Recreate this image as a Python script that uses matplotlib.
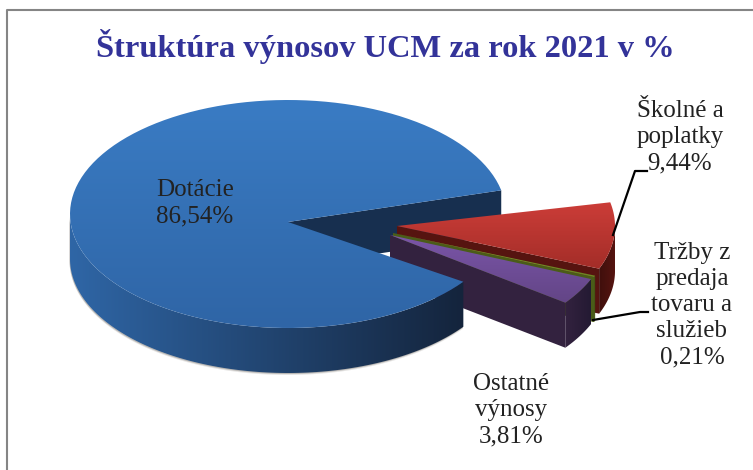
import numpy as np
import matplotlib
matplotlib.use("Agg")
import matplotlib.pyplot as plt
from matplotlib.colors import LinearSegmentedColormap
from matplotlib.patches import Polygon

# Values, in percent, going counterclockwise from the Dotacie slice
categories = ["Dotácie", "Ostatné výnosy", "Tržby z predaja tovaru a služieb", "Školné a poplatky"]
values = [86.54, 3.81, 0.21, 9.44]
value_labels = ["86,54%", "3,81%", "0,21%", "9,44%"]
title = "Štruktúra výnosov UCM za rok 2021 v %"

# Pie geometry in pixels
CX, CY = 288, 214
RX, RY = 218, 114
DEPTH = 45
START = 12.0
APEX_DROP = 8
OFFSETS = [(0, 0), (102, 21), (105, 19), (109, 12)]

# top start, top end, side light, side dark
COLORS = [
    ("#3a7cc4", "#2f65a6", "#2f66a6", "#14243c"),
    ("#7a55a8", "#634586", "#33223f", "#241a33"),
    ("#7f9a2c", "#6b8424", "#4a5c18", "#3c4c12"),
    ("#cc3d38", "#a32d28", "#561410", "#3f0f0c"),
]

FONT = ["Liberation Serif", "DejaVu Serif"]
TEXT = "#222222"


def rim(t1, t2, ox=0, oy=0, n=120):
    t = np.radians(np.linspace(t1, t2, n))
    return np.column_stack([CX + ox + RX * np.cos(t), CY + oy - RY * np.sin(t)])


def grad_fill(ax, pts, c1, c2, vertical=True, zorder=2):
    """Fill a polygon with a linear gradient, clipped through an image."""
    cmap = LinearSegmentedColormap.from_list("g", [c1, c2])
    g = np.linspace(0, 1, 256)
    g = g.reshape(-1, 1) if vertical else g.reshape(1, -1)
    x0, y0 = pts.min(axis=0)
    x1, y1 = pts.max(axis=0)
    im = ax.imshow(g, cmap=cmap, extent=(x0, x1, y1, y0), aspect="auto", zorder=zorder,
                   interpolation="bilinear")
    poly = Polygon(pts, closed=True, facecolor="none", edgecolor="none", transform=ax.transData)
    ax.add_patch(poly)
    im.set_clip_path(poly)


def draw_side(ax, t1, t2, ox, oy, c1, c2, zorder):
    # only the part of the rim facing the viewer
    lo, hi = max(t1, -180), min(t2, 0)
    if lo < hi:
        top = rim(lo, hi, ox, oy)
        grad_fill(ax, np.vstack([top, (top + [0, DEPTH])[::-1]]), c1, c2, vertical=False, zorder=zorder)


fig = plt.figure(figsize=(7.53, 4.70), dpi=100)
ax = fig.add_axes([0, 0, 1, 1])
ax.set_xlim(0, 753)
ax.set_ylim(470, 0)
ax.axis("off")

# chart frame, only left and top show up in the crop
ax.plot([7, 7, 753], [470, 10, 10], color="#858585", lw=1.5, zorder=1)

# slice angles, clockwise from the start of the notch
sweeps = [v / sum(values) * 360 for v in values]
dot_end = START + sweeps[0]
a_ost = dot_end - 360
a_trz = a_ost + sweeps[1]
a_sko = a_trz + sweeps[2]
a_end = a_sko + sweeps[3]

# soft shadow under the big slice
for grow, alpha in [(2.0, 0.15), (1.0, 0.3)]:
    sh = rim(-180, a_ost, -0.5, grow)
    sh = np.vstack([sh + [0, DEPTH], sh[::-1]])
    ax.add_patch(Polygon(sh, closed=True, fc="#555048", ec="none", alpha=alpha, zorder=1.5))

# back wall of the notch in the big slice
back = rim(START, START, n=1)[0]
wall = np.array([[CX, CY + APEX_DROP], back, back + [0, DEPTH], [CX, CY + APEX_DROP + DEPTH]])
ax.add_patch(Polygon(wall, closed=True, fc="#172f4f", ec="none", zorder=2))

# exploded slices, back to front
spans = {3: (a_sko, a_end), 2: (a_trz, a_sko), 1: (a_ost, a_trz)}
for order, i in enumerate([3, 2, 1]):
    t1, t2 = spans[i]
    ox, oy = OFFSETS[i]
    top_c, low_c, side1, side2 = COLORS[i]
    z = 3 + order
    apex = np.array([CX + ox, CY + oy])
    edge = rim(t1, t1, ox, oy, n=1)[0]
    # front cut wall
    cut = np.array([apex, edge, edge + [0, DEPTH], apex + [0, DEPTH]])
    ax.add_patch(Polygon(cut, closed=True, fc=side1, ec="none", zorder=z))
    draw_side(ax, t1, t2, ox, oy, side2 if i == 3 else side1, side1 if i == 3 else side2, z)
    face = np.vstack([apex, rim(t1, t2, ox, oy)])
    grad_fill(ax, face, top_c, low_c, zorder=z + 0.5)

# big slice front
front = rim(START, dot_end)
draw_side(ax, -180, a_ost, 0, 0, COLORS[0][2], COLORS[0][3], 7)
face = np.vstack([[CX, CY + APEX_DROP], front])
grad_fill(ax, face, COLORS[0][0], COLORS[0][1], zorder=7.5)

# leader lines
ax.plot([613, 635, 647], [235, 171, 171], color="black", lw=1.6, zorder=9)
ax.plot([593, 640, 648], [320, 312, 312], color="black", lw=1.6, zorder=9)

# labels
ax.text(385, 47, title, ha="center", va="center", fontsize=23.4, fontweight="bold",
        color="#333399", family=FONT, zorder=10)
label_style = dict(ha="center", va="center", fontsize=18, family=FONT, color=TEXT,
                   linespacing=1.25, zorder=10)
ax.text(195, 203, categories[0] + "\n" + value_labels[0], **label_style)
ax.text(680, 137, "Školné a\npoplatky\n" + value_labels[3], **label_style)
ax.text(692, 305, "Tržby z\npredaja\ntovaru a\nslužieb\n" + value_labels[2], **label_style)
ax.text(511, 410, "Ostatné\nvýnosy\n" + value_labels[1], **label_style)

ax.set_xlim(0, 753)
ax.set_ylim(470, 0)
fig.savefig("out.png", dpi=100)
